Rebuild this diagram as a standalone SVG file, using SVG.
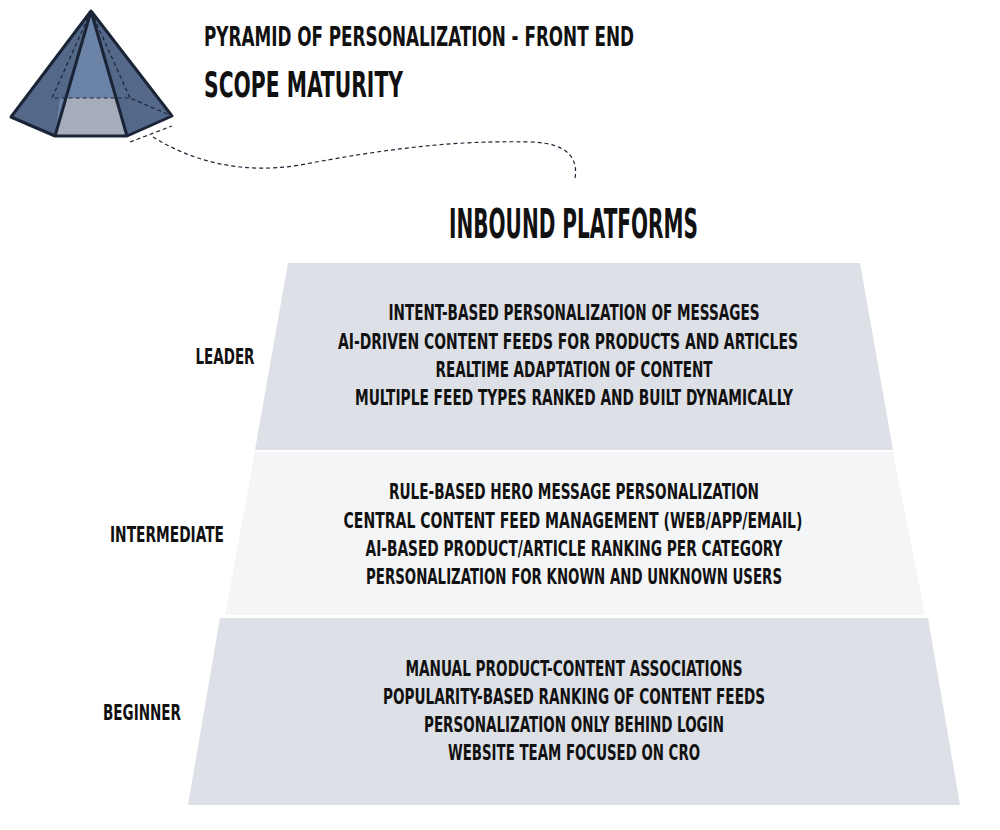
<svg xmlns="http://www.w3.org/2000/svg" width="1000" height="830" viewBox="0 0 1000 830">
<style>
text{font-family:"DejaVu Sans Condensed","DejaVu Sans",sans-serif;font-weight:bold;fill:#111}
.b{font-size:21px;text-anchor:middle}
.l{font-size:21px;text-anchor:middle}
.e{stroke:#1a2436;stroke-width:3;fill:none;stroke-linejoin:round}
.d{stroke:#1a2436;stroke-width:1.2;stroke-dasharray:4 3;fill:none}
</style>
<rect width="1000" height="830" fill="#fff"/>
<g id="icon">
<polygon points="11,117 52,98 120,98 172,116 127,136 55,136" fill="#6f7f96"/>
<polygon points="60,98 118,98 127,136 55,136" fill="#a4adb9"/>
<polygon points="91,11 11,117 55,136" fill="#54698a"/>
<polygon points="91,11 55,136 60,98 118,98 127,136" fill="#6a83a6"/>
<polygon points="91,11 127,136 172,116" fill="#54698a"/>
<path class="d" d="M91,11 L52,98 L130,98 L172,116 M91,11 L130,98"/>
<path class="e" d="M91,11 L11,117 L55,136 L127,136 L172,116 Z M91,11 L55,136 M91,11 L127,136"/>
</g>
<g id="title">
<text x="204" y="46" style="font-size:26px" textLength="430" lengthAdjust="spacingAndGlyphs">PYRAMID OF PERSONALIZATION - FRONT END</text>
<text x="204" y="97" style="font-size:35px" textLength="199" lengthAdjust="spacingAndGlyphs">SCOPE MATURITY</text>
<text x="449" y="238" style="font-size:40px" textLength="249" lengthAdjust="spacingAndGlyphs">INBOUND PLATFORMS</text>
</g>
<g id="connectors">
<path class="d" d="M130,142 L172,126"/>
<path class="d" d="M153,137 C190,160 240,175 300,165 C380,150 450,140 530,142 C570,143 578,160 575,178"/>
</g>
<g id="leader">
<polygon points="288,263 860,263 893,450 255,450" fill="#dde0e6"/>
<text class="l" x="225" y="364" textLength="59" lengthAdjust="spacingAndGlyphs">LEADER</text>
<text class="b" x="574" y="320" textLength="371" lengthAdjust="spacingAndGlyphs">INTENT-BASED PERSONALIZATION OF MESSAGES</text>
<text class="b" x="568" y="349" textLength="460" lengthAdjust="spacingAndGlyphs">AI-DRIVEN CONTENT FEEDS FOR PRODUCTS AND ARTICLES</text>
<text class="b" x="574" y="377" textLength="277" lengthAdjust="spacingAndGlyphs">REALTIME ADAPTATION OF CONTENT</text>
<text class="b" x="574" y="405" textLength="438" lengthAdjust="spacingAndGlyphs">MULTIPLE FEED TYPES RANKED AND BUILT DYNAMICALLY</text>
</g>
<g id="intermediate">
<polygon points="255,452 893,452 925,615 225,615" fill="#f4f5f7"/>
<text class="l" x="167" y="542" textLength="114" lengthAdjust="spacingAndGlyphs">INTERMEDIATE</text>
<text class="b" x="574" y="499" textLength="370" lengthAdjust="spacingAndGlyphs">RULE-BASED HERO MESSAGE PERSONALIZATION</text>
<text class="b" x="573" y="528" textLength="459" lengthAdjust="spacingAndGlyphs">CENTRAL CONTENT FEED MANAGEMENT (WEB/APP/EMAIL)</text>
<text class="b" x="574" y="556" textLength="417" lengthAdjust="spacingAndGlyphs">AI-BASED PRODUCT/ARTICLE RANKING PER CATEGORY</text>
<text class="b" x="574" y="584" textLength="416" lengthAdjust="spacingAndGlyphs">PERSONALIZATION FOR KNOWN AND UNKNOWN USERS</text>
</g>
<g id="beginner">
<polygon points="220,618 928,618 960,805 188,805" fill="#dde0e6"/>
<text class="l" x="142" y="720" textLength="78" lengthAdjust="spacingAndGlyphs">BEGINNER</text>
<text class="b" x="574" y="676" textLength="337" lengthAdjust="spacingAndGlyphs">MANUAL PRODUCT-CONTENT ASSOCIATIONS</text>
<text class="b" x="574" y="704" textLength="382" lengthAdjust="spacingAndGlyphs">POPULARITY-BASED RANKING OF CONTENT FEEDS</text>
<text class="b" x="574" y="732" textLength="300" lengthAdjust="spacingAndGlyphs">PERSONALIZATION ONLY BEHIND LOGIN</text>
<text class="b" x="574" y="760" textLength="252" lengthAdjust="spacingAndGlyphs">WEBSITE TEAM FOCUSED ON CRO</text>
</g>
</svg>
